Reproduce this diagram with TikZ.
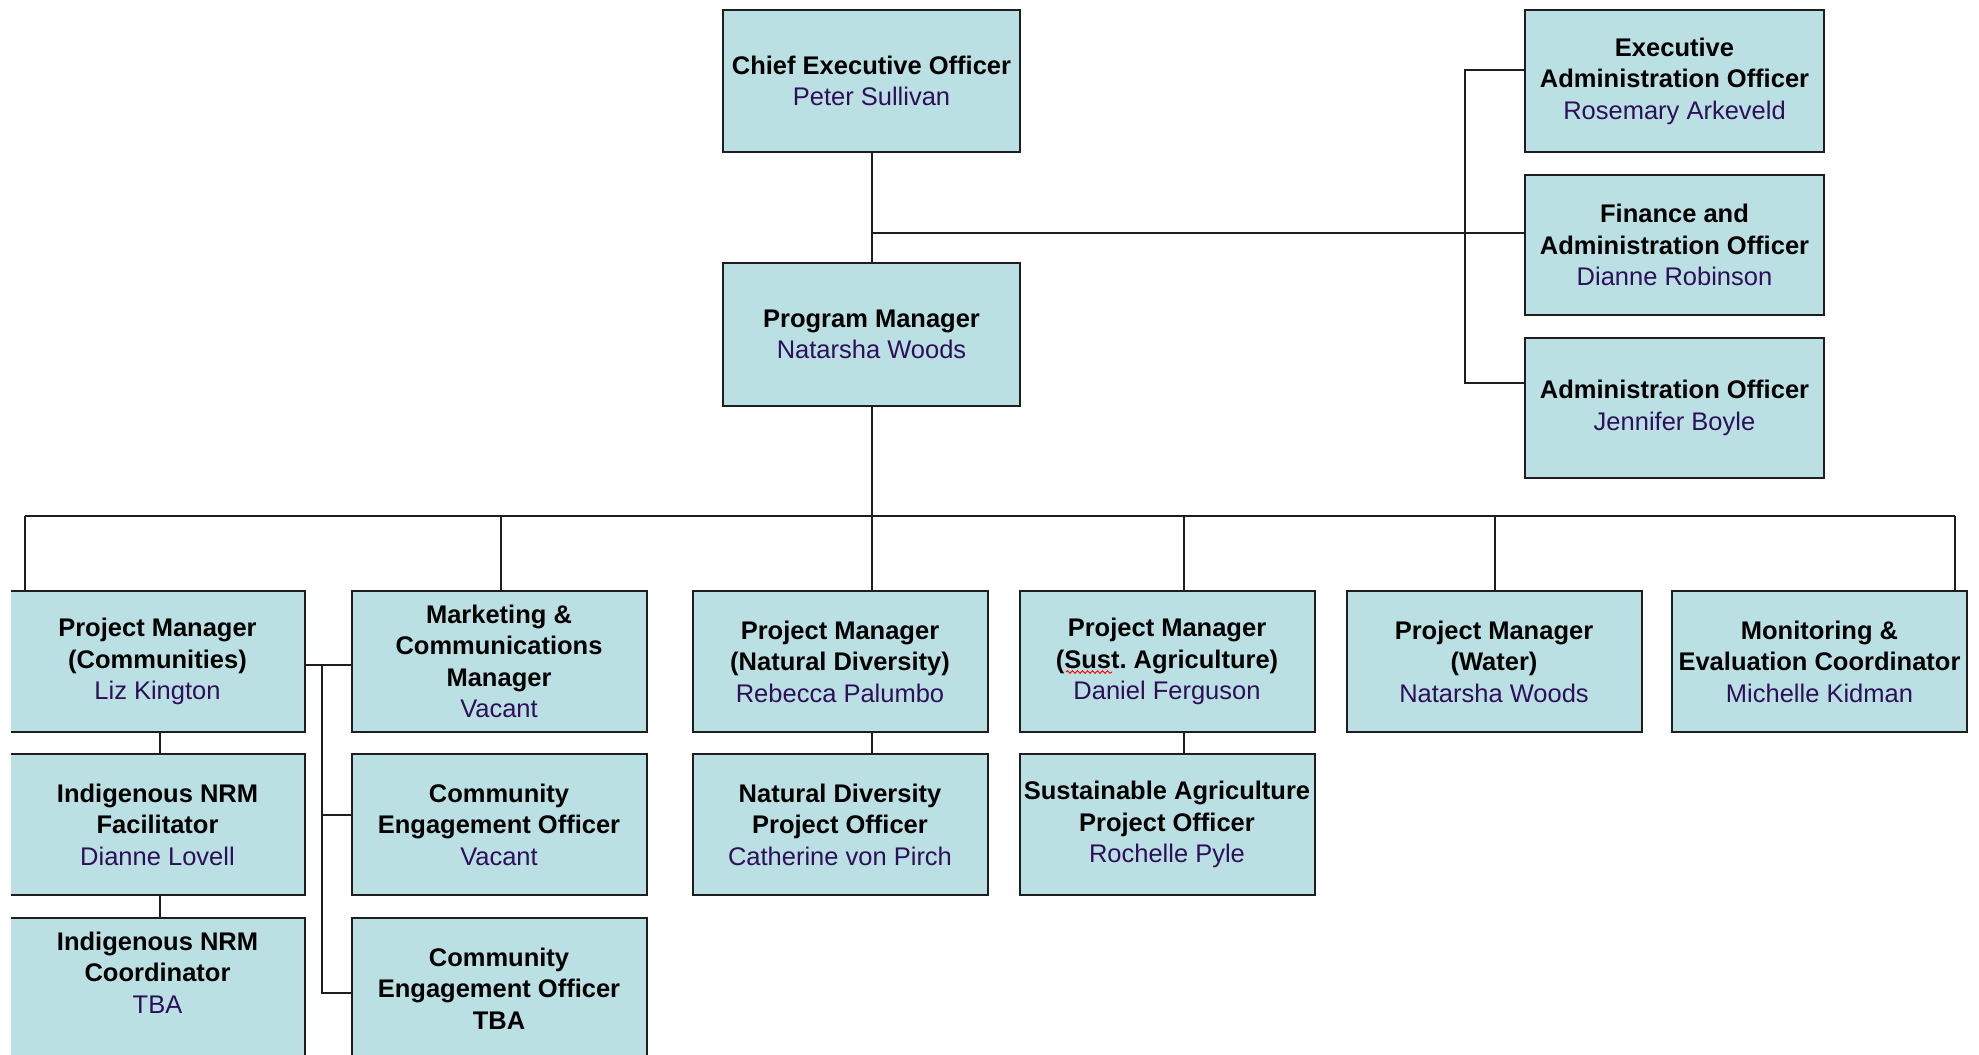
\documentclass[tikz,border=0pt]{standalone}
\usepackage{fontspec}
\setmainfont{Liberation Sans}
\usetikzlibrary{decorations.pathmorphing}
\definecolor{boxfill}{RGB}{187,224,227}
\definecolor{nm}{RGB}{45,15,90}
\definecolor{ln}{RGB}{30,30,30}
\frenchspacing
\begin{document}
\begin{tikzpicture}[x=1pt,y=-1pt,
  box/.style={draw=ln, line width=2pt, fill=boxfill, minimum width=295pt, minimum height=141pt,
    inner sep=0pt, align=center, font=\fontsize{25.5}{31.5}\selectfont},
  txt/.style={inner sep=0pt, align=center, font=\fontsize{25.5}{31.5}\selectfont},
  conn/.style={draw=ln, line width=2pt}]
\useasboundingbox (0,0) rectangle (1979,1055);
\fill[white] (0,0) rectangle (1979,1055);
\clip (11,0) rectangle (1979,1055);
% top
\node[box, minimum width=297pt, minimum height=142pt] (ceo) at (871.5,81) {\textbf{Chief Executive Officer}\\\textcolor{nm}{Peter Sullivan}};
\node[box, minimum width=297pt, minimum height=143pt] (pm) at (871.5,334.5) {\textbf{Program Manager}\\\textcolor{nm}{Natarsha Woods}};
\node[box, minimum width=299pt, minimum height=142pt] (exa) at (1674.5,81) {\textbf{Executive}\\\textbf{Administration Officer}\\\textcolor{nm}{Rosemary Arkeveld}};
\node[box, minimum width=299pt, minimum height=140pt] (fin) at (1674.5,245) {\textbf{Finance and}\\\textbf{Administration Officer}\\\textcolor{nm}{Dianne Robinson}};
\node[box, minimum width=299pt, minimum height=140pt] (adm) at (1674.5,408) {\textbf{Administration Officer}\\\textcolor{nm}{Jennifer Boyle}};
% row 1
\node[box] (pmc) at (157.5,661.5) {\textbf{Project Manager}\\\textbf{(Communities)}\\\textcolor{nm}{Liz Kington}};
\node[box] (mkt) at (499,661.5) {\textbf{Marketing \&}\\\textbf{Communications}\\\textbf{Manager}\\\textcolor{nm}{Vacant}};
\node[box] (pnd) at (840,661.5) {\textbf{Project Manager}\\\textbf{(Natural Diversity)}\\\textcolor{nm}{Rebecca Palumbo}};
\node[box] (psa) at (1167,661.5) {\textbf{Project Manager}\\\textbf{(Sust. Agriculture)}\\\textcolor{nm}{Daniel Ferguson}};
\node[box] (pwa) at (1494,661.5) {\textbf{Project Manager}\\\textbf{(Water)}\\\textcolor{nm}{Natarsha Woods}};
\node[box] (mon) at (1819.5,661.5) {\textbf{Monitoring \&}\\\textbf{Evaluation Coordinator}\\\textcolor{nm}{Michelle Kidman}};
% row 2
\node[box] (inf) at (157.5,824.5) {\textbf{Indigenous NRM}\\\textbf{Facilitator}\\\textcolor{nm}{Dianne Lovell}};
\node[box] (ce1) at (499,824.5) {\textbf{Community}\\\textbf{Engagement Officer}\\\textcolor{nm}{Vacant}};
\node[box] (ndo) at (840,824.5) {\textbf{Natural Diversity}\\\textbf{Project Officer}\\\textcolor{nm}{Catherine von Pirch}};
\node[box] (sao) at (1167,824.5) {\textbf{Sustainable Agriculture}\\\textbf{Project Officer}\\\textcolor{nm}{Rochelle Pyle}};
% row 3
\node[box] (inc) at (157.5,988.5) {};
\node[txt] (inct) at (157.5,972.5) {\textbf{Indigenous NRM}\\\textbf{Coordinator}\\\textcolor{nm}{TBA}};
\node[box] (ce2) at (499,988.5) {\textbf{Community}\\\textbf{Engagement Officer}\\\textbf{TBA}};
% spell-check squiggle
\draw[red, line width=0.9pt, decorate, decoration={snake, amplitude=1.3pt, segment length=5pt}] (1066,672) -- (1112,672);
% connectors
\draw[conn] (ceo.south) -- (pm.north);
\coordinate (j1) at (871.5,233);
\draw[conn] (j1) -- (j1 -| fin.west);
\coordinate (rv1) at (1465,70);
\coordinate (rv2) at (1465,383);
\draw[conn] (rv1 -| exa.west) -- (rv1) -- (rv2) -- (rv2 -| adm.west);
\coordinate (bA) at (25,516);
\coordinate (bB) at (501,516);
\coordinate (bD) at (1184,516);
\coordinate (bE) at (1495,516);
\coordinate (bF) at (1955,516);
\draw[conn] (pm.south) -- (pm.south |- pnd.north);
\draw[conn] (bA) -- (bF);
\draw[conn] (bA) -- (bA |- pmc.north);
\draw[conn] (bB) -- (bB |- mkt.north);
\draw[conn] (bD) -- (bD |- psa.north);
\draw[conn] (bE) -- (bE |- pwa.north);
\draw[conn] (bF) -- (bF |- mon.north);
\coordinate (lg1) at (322,665);
\coordinate (lg2) at (322,815);
\coordinate (lg3) at (322,993);
\draw[conn] (lg1 -| pmc.east) -- (lg1 -| mkt.west);
\draw[conn] (lg1) -- (lg3) -- (lg3 -| ce2.west);
\draw[conn] (lg2) -- (lg2 -| ce1.west);
\draw[conn] ([xshift=2.5pt]pmc.south) -- ([xshift=2.5pt]inf.north);
\draw[conn] ([xshift=2.5pt]inf.south) -- ([xshift=2.5pt]inc.north);
\draw[conn] (pnd.south -| pm.south) -- (ndo.north -| pm.south);
\draw[conn] (psa.south -| bD) -- (sao.north -| bD);
\end{tikzpicture}
\end{document}
